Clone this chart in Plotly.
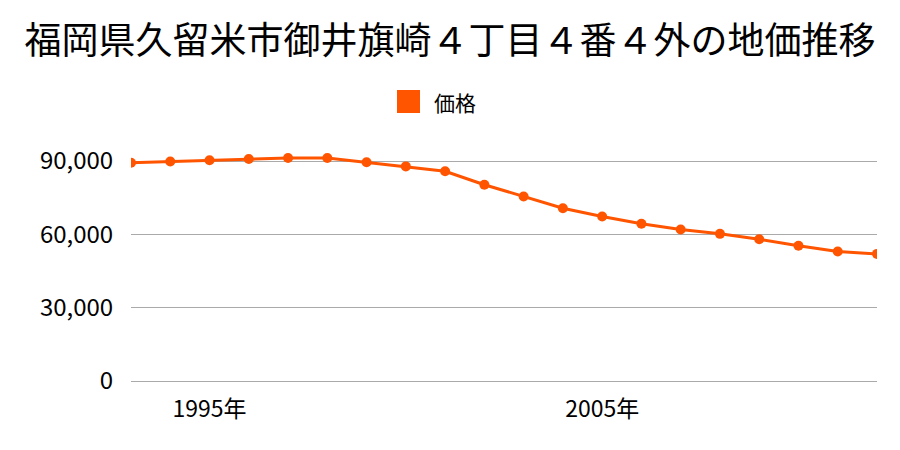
import plotly.graph_objects as go

years = list(range(1993, 2013))
prices = [89300, 89800, 90300, 90800, 91200, 91200, 89500, 87800, 85800, 80300,
          75500, 70700, 67300, 64300, 62000, 60200, 58000, 55300, 53000, 52000]
series_name = "価格"
title_text = "福岡県久留米市御井旗崎４丁目４番４外の地価推移"
x_tick_vals = [1995, 2005]
x_tick_text = ["1995年", "2005年"]
y_tick_vals = [0, 30000, 60000, 90000]
y_tick_text = ["0", "30,000", "60,000", "90,000"]

color = "#FF5500"
font = "Noto Sans CJK JP"

L, R, T, B = 131, 23, 139, 69
W, H = 900, 450
pw, ph = W - L - R, H - T - B


def px_x(x):
    return (x - L) / pw


def px_y(y):
    return (H - B - y) / ph


fig = go.Figure()
fig.add_trace(go.Scatter(
    x=years, y=prices, mode="lines+markers", name=series_name,
    line=dict(color=color, width=3),
    marker=dict(color=color, size=10),
    showlegend=False,
))

# legend swatch + label
fig.add_shape(type="rect", xref="paper", yref="paper",
              x0=px_x(397), x1=px_x(420), y0=px_y(113), y1=px_y(90),
              fillcolor=color, line=dict(width=0))
fig.add_annotation(text=series_name, xref="paper", yref="paper",
                   x=px_x(432), y=px_y(102), xanchor="left", yanchor="middle",
                   showarrow=False, font=dict(size=21, family=font, color="#000"))

fig.update_layout(
    width=W, height=H,
    margin=dict(l=L, r=R, t=T, b=B),
    paper_bgcolor="white", plot_bgcolor="white",
    font=dict(family=font, color="#000"),
    showlegend=False,
    title=dict(text=title_text, x=0.5, xanchor="center", xref="container",
               y=1 - 41 / 450, yanchor="middle", yref="container",
               font=dict(size=37, family=font, color="#000")),
    xaxis=dict(range=[1993, 2012], tickvals=x_tick_vals, ticktext=x_tick_text,
               showgrid=False, zeroline=False, showline=False,
               ticks="outside", ticklen=7, tickcolor="rgba(0,0,0,0)",
               tickfont=dict(size=23, family=font)),
    yaxis=dict(range=[0, 99000], tickvals=y_tick_vals, ticktext=y_tick_text,
               showgrid=True, gridcolor="#AAAAAA", gridwidth=1,
               zeroline=True, zerolinecolor="#AAAAAA", zerolinewidth=1,
               showline=False, ticks="outside", ticklen=12, tickcolor="rgba(0,0,0,0)",
               tickfont=dict(size=24, family=font)),
)

fig.write_html("out.html")
